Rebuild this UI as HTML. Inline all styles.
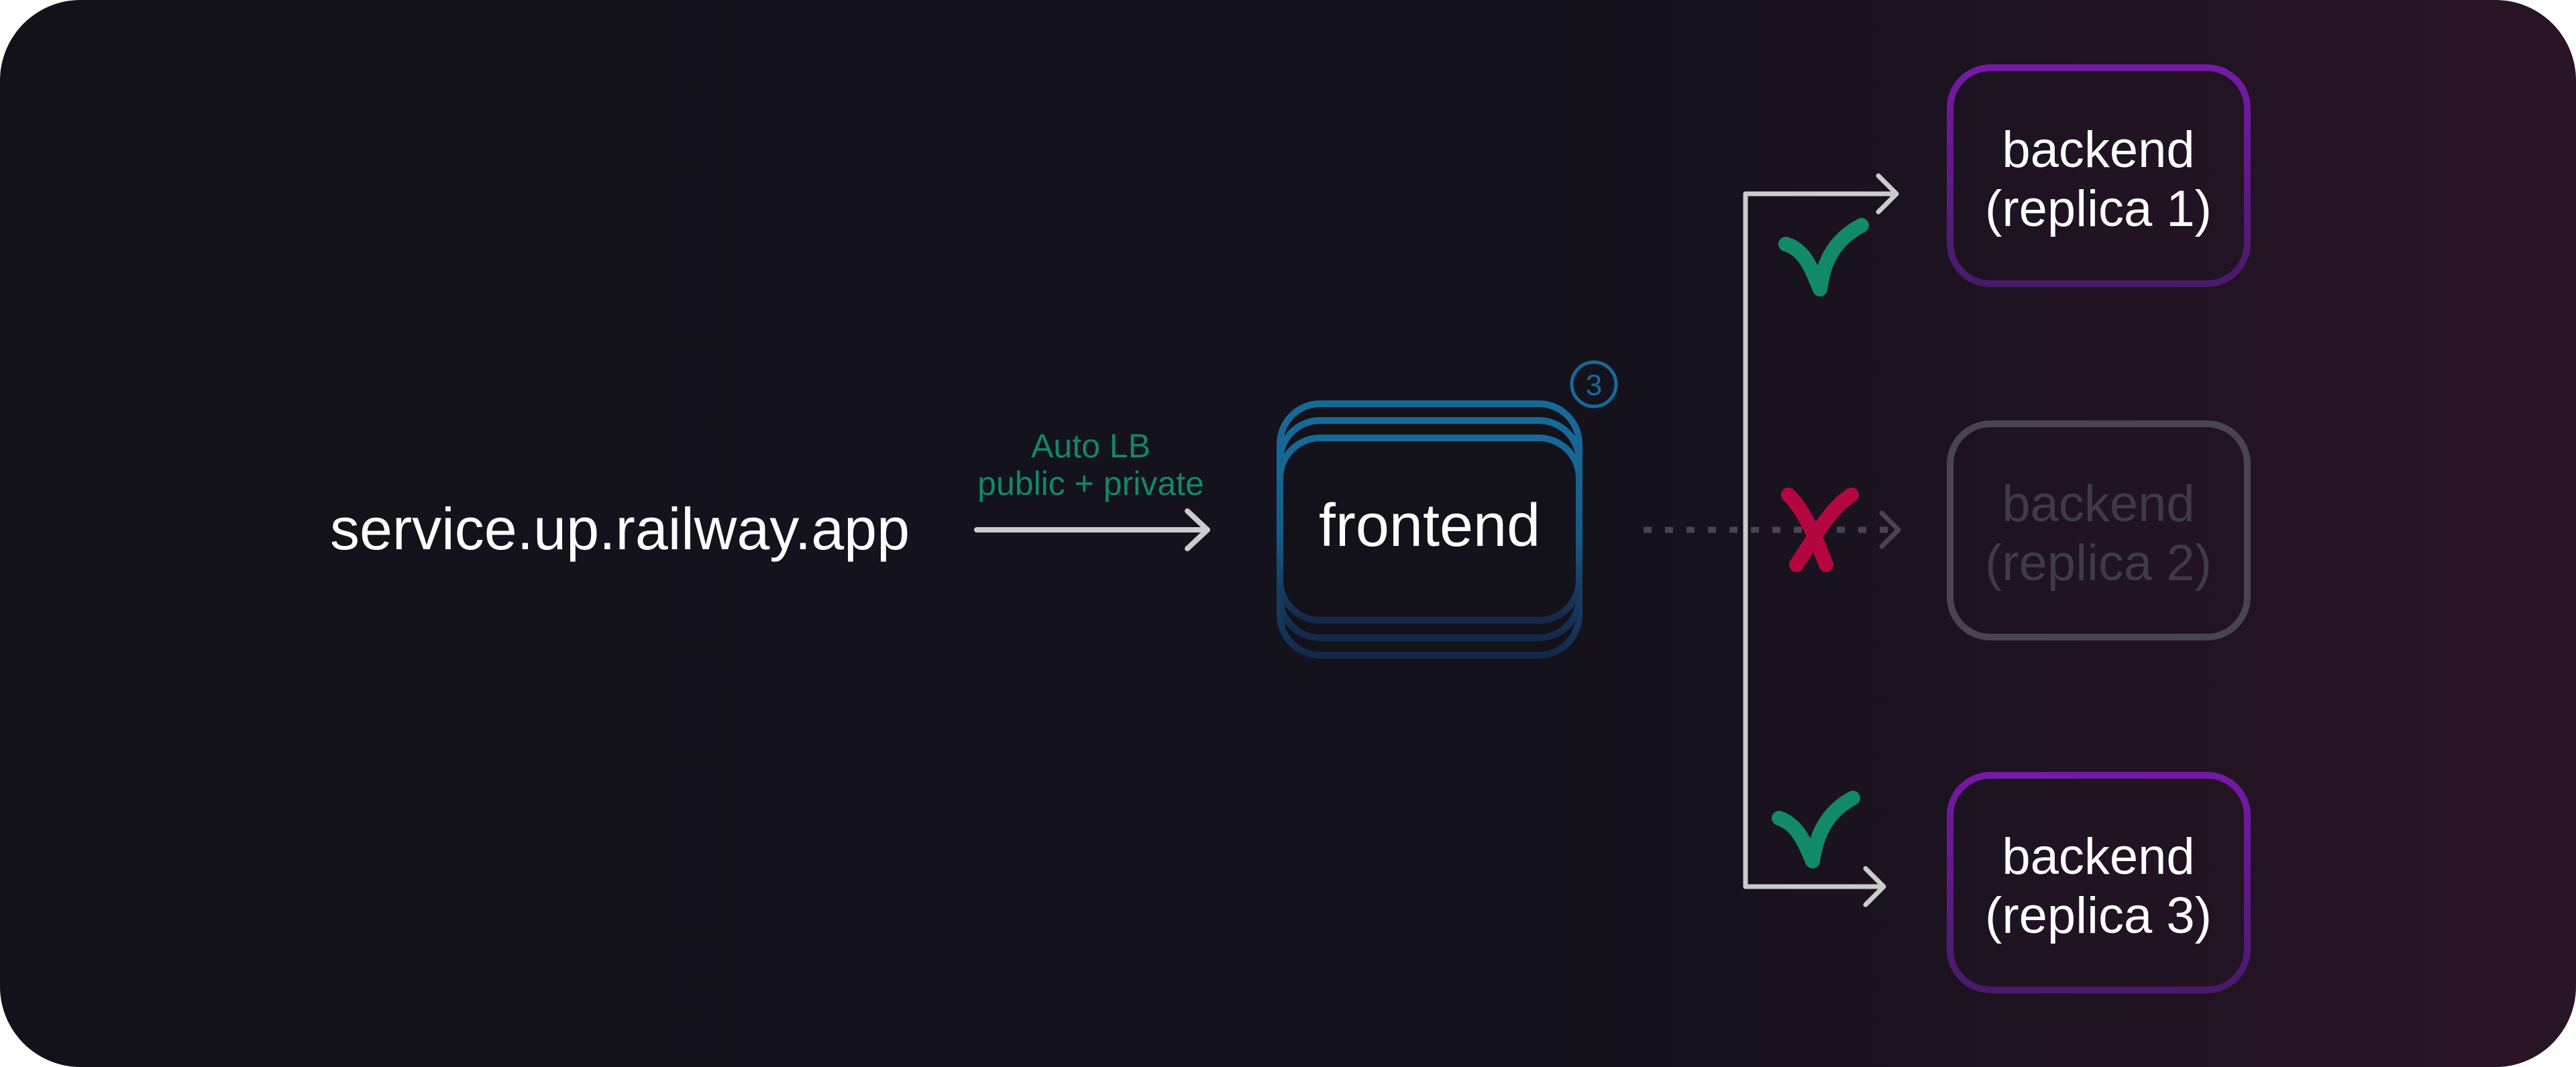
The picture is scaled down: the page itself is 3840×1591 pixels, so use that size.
<!DOCTYPE html>
<html><head><meta charset="utf-8"><style>
html,body{margin:0;padding:0;background:#fff;}
svg{display:block;}
text{font-family:"Liberation Sans",sans-serif;}
</style></head><body>
<svg width="3840" height="1591" viewBox="0 0 3840 1591" xmlns="http://www.w3.org/2000/svg">
<defs>
<linearGradient id="bg" x1="0" y1="0" x2="1" y2="0">
<stop offset="0" stop-color="#13121b"/>
<stop offset="0.6" stop-color="#14121c"/>
<stop offset="1" stop-color="#2a1427"/>
</linearGradient>
<linearGradient id="fe" x1="0" y1="0" x2="0" y2="1">
<stop offset="0" stop-color="#166a98"/>
<stop offset="0.55" stop-color="#165a86"/>
<stop offset="1" stop-color="#14294a"/>
</linearGradient>
<linearGradient id="pu" x1="0" y1="0" x2="0" y2="1">
<stop offset="0" stop-color="#7519a6"/>
<stop offset="1" stop-color="#481a6a"/>
</linearGradient>
</defs>
<rect x="0" y="0" width="3840" height="1591" rx="120" fill="url(#bg)"/>

<text x="924" y="819" font-size="88" fill="#ffffff" text-anchor="middle">service.up.railway.app</text>

<text x="1626" y="682" font-size="50" fill="#12876a" text-anchor="middle">Auto LB</text>
<text x="1626" y="738" font-size="50" fill="#12876a" text-anchor="middle">public + private</text>
<g stroke="#cccccc" stroke-width="8" fill="none" stroke-linecap="round" stroke-linejoin="round">
<line x1="1456" y1="790" x2="1798" y2="790"/>
<polyline points="1770,762 1800,790 1770,818"/>
</g>

<g fill="#13121b" stroke="url(#fe)" stroke-width="10">
<rect x="1908" y="602" width="446" height="375" rx="60"/>
<rect x="1908" y="627" width="446" height="324" rx="60"/>
<rect x="1908" y="653" width="446" height="272" rx="60"/>
</g>
<text x="2131" y="814" font-size="90" fill="#ffffff" text-anchor="middle">frontend</text>
<circle cx="2376" cy="573" r="33" fill="none" stroke="#166a98" stroke-width="5"/>
<text x="2376" y="589" font-size="44" fill="#166a98" text-anchor="middle">3</text>

<line x1="2450" y1="790" x2="2820" y2="790" stroke="#4a4452" stroke-width="9" stroke-dasharray="12,20"/>
<polyline points="2805,765 2830,790 2805,815" fill="none" stroke="#4a4452" stroke-width="7" stroke-linecap="round" stroke-linejoin="round"/>

<g stroke="#cccccc" stroke-width="7" fill="none" stroke-linecap="round" stroke-linejoin="round">
<polyline points="2827,289 2602,289 2602,1322 2808,1322" stroke-linecap="butt"/>
<polyline points="2800,262 2827,289 2800,316"/>
<polyline points="2781,1295 2808,1322 2781,1349"/>
</g>

<g stroke="#128a68" stroke-width="22" fill="none" stroke-linecap="round" stroke-linejoin="round">
<path d="M2662,364 C2690,372 2700,400 2713,431 C2718,395 2730,360 2775,336"/>
<path d="M2652,1220 C2678,1228 2690,1255 2702,1284 C2707,1250 2720,1212 2762,1190"/>
</g>
<g stroke="#b5063f" stroke-width="22" fill="none" stroke-linecap="round">
<path d="M2666,738 C2690,760 2710,810 2722,842"/>
<path d="M2760,738 C2725,760 2700,810 2678,842"/>
</g>

<g fill="none" stroke-width="10">
<rect x="2907" y="101" width="443" height="322" rx="60" stroke="url(#pu)"/>
<rect x="2907" y="632" width="443" height="318" rx="60" stroke="#4a4452"/>
<rect x="2907" y="1156" width="443" height="320" rx="60" stroke="url(#pu)"/>
</g>
<g font-size="76" text-anchor="middle">
<text x="3128" y="249" fill="#ffffff">backend</text>
<text x="3128" y="337" fill="#ffffff">(replica 1)</text>
<text x="3128" y="777" fill="#3f3a48">backend</text>
<text x="3128" y="865" fill="#3f3a48">(replica 2)</text>
<text x="3128" y="1303" fill="#ffffff">backend</text>
<text x="3128" y="1391" fill="#ffffff">(replica 3)</text>
</g>
</svg>
</body></html>
